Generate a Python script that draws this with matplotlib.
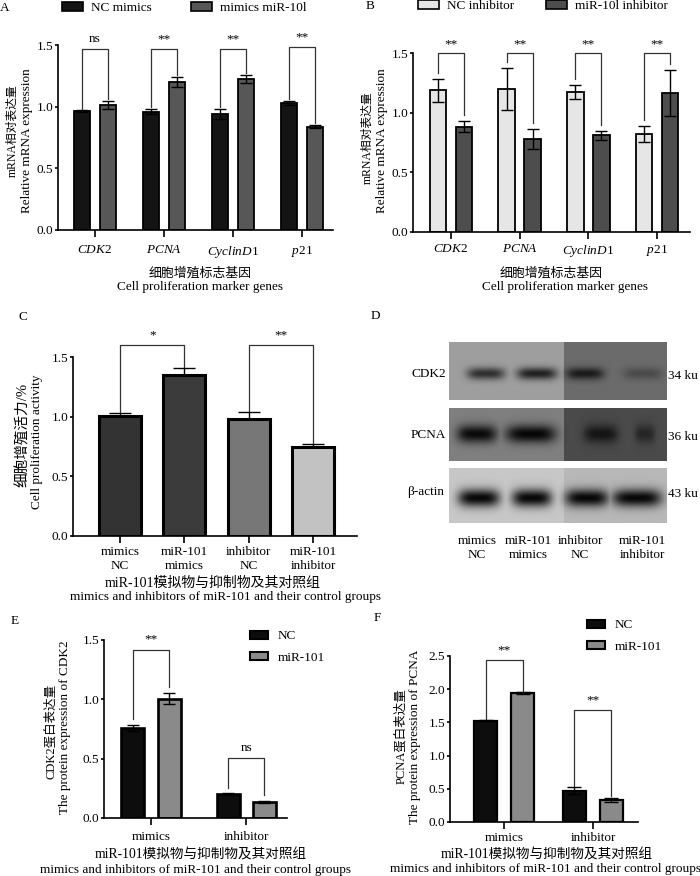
import numpy as np
import matplotlib
matplotlib.use('Agg')
import matplotlib.pyplot as plt
from matplotlib.patches import Patch
from matplotlib.ticker import FormatStrFormatter

plt.rcParams['font.family'] = ['Liberation Serif', 'Noto Sans CJK SC']
plt.rcParams['mathtext.fontset'] = 'custom'
plt.rcParams['mathtext.it'] = 'Liberation Serif:italic'
plt.rcParams['mathtext.rm'] = 'Liberation Serif'
plt.rcParams['font.size'] = 9.5

# ---------------- data ----------------
genes = [r'$\it{CDK}$2', r'$\it{PCNA}$', r'$\it{CyclinD}$1', r'$\it{p}$21']

a_nc = [0.965, 0.96, 0.94, 1.03]
a_nc_err = [0.005, 0.02, 0.04, 0.015]
a_mir = [1.013, 1.203, 1.224, 0.838]
a_mir_err = [0.035, 0.04, 0.03, 0.012]
a_sig = ['ns', '**', '**', '**']
a_top = [1.465, 1.465, 1.465, 1.48]

b_nc = [1.187, 1.198, 1.173, 0.821]
b_nc_err = [0.095, 0.175, 0.055, 0.065]
b_mir = [0.883, 0.777, 0.81, 1.165]
b_mir_err = [0.047, 0.085, 0.035, 0.19]
b_sig = ['**', '**', '**', '**']
b_top = [1.5, 1.5, 1.5, 1.5]

c_groups = ['mimics\nNC', 'miR-101\nmimics', 'inhibitor\nNC', 'miR-101\ninhibitor']
c_vals = [1.003, 1.35, 0.98, 0.75]
c_err = [0.027, 0.06, 0.056, 0.017]
c_sig = ['*', '**']
c_top = [1.6, 1.6]

e_groups = ['mimics', 'inhibitor']
e_nc = [0.757, 0.2]
e_nc_err = [0.028, 0.007]
e_mir = [1.006, 0.132]
e_mir_err = [0.045, 0.008]
e_sig = ['**', 'ns']
e_top = [1.416, 0.505]

f_nc = [1.525, 0.47]
f_nc_err = [0.01, 0.05]
f_mir = [1.945, 0.335]
f_mir_err = [0.015, 0.03]
f_sig = ['**', '**']
f_top = [2.435, 1.685]

# western blot band strengths (0..1) per lane
blot_names = ['CDK2', 'PCNA', 'β-actin']
blot_sizes = ['34 ku', '36 ku', '43 ku']
cdk2_band = [0.7, 0.8, 0.75, 0.3]
pcna_band = [0.92, 0.95, 0.72, 0.5]
actin_band = [0.96, 0.96, 0.96, 0.96]
lanes = ['mimics\nNC', 'miR-101\nmimics', 'inhibitor\nNC', 'miR-101\ninhibitor']

W, H = 700, 876
fig = plt.figure(figsize=(7, 8.76), dpi=100)


def box(x0, y0, x1, y1):
    return [x0 / W, 1 - y1 / H, (x1 - x0) / W, (y1 - y0) / H]


def ftext(x, y, s, **kw):
    kw.setdefault('ha', 'center')
    kw.setdefault('va', 'center')
    fig.text(x / W, 1 - y / H, s, **kw)


def style(ax, ylim, yticks, xpad, xlen=5):
    for s in ['top', 'right']:
        ax.spines[s].set_visible(False)
    for s in ['left', 'bottom']:
        ax.spines[s].set_linewidth(1.2)
    ax.set_ylim(ylim)
    ax.set_yticks(yticks)
    ax.yaxis.set_major_formatter(FormatStrFormatter('%.1f'))
    ax.tick_params(axis='y', direction='out', length=2.5, width=1.2, pad=1, labelsize=9.5)
    ax.tick_params(axis='x', direction='out', length=xlen, width=1.2, pad=xpad, labelsize=9.5)


def bracket(ax, x1, x2, y1, y2, top, label, dy=2, size=9.5):
    ax.plot([x1, x1, x2, x2], [y1, top, top, y2], color='#333333', lw=0.9, clip_on=False)
    ax.annotate(label, xy=((x1 + x2) / 2, top), xytext=(0, dy), textcoords='offset points',
                ha='center', va='bottom', fontsize=size, annotation_clip=False)


def grouped(ax, nc, nce, mir, mire, c1, c2, w, off, lw, cap, tops, sigs, gap, dy=2):
    x = np.arange(len(nc))
    ekw = dict(elinewidth=1.0, capthick=1.0, ecolor='black')
    ax.bar(x - off, nc, w, yerr=nce, color=c1, edgecolor='black', linewidth=lw,
           capsize=cap, error_kw=ekw, zorder=2)
    ax.bar(x + off, mir, w, yerr=mire, color=c2, edgecolor='black', linewidth=lw,
           capsize=cap, error_kw=ekw, zorder=2)
    for i in range(len(nc)):
        bracket(ax, i - off, i + off, nc[i] + nce[i] + gap, mir[i] + mire[i] + gap,
                tops[i], sigs[i], dy=dy)
    return x


# ---------------- A ----------------
axA = fig.add_axes(box(58, 45, 333, 230))
xa = grouped(axA, a_nc, a_nc_err, a_mir, a_mir_err, '#141414', '#575757', 0.232, 0.188,
             1.3, 4, a_top, a_sig, 0.015, dy=3)
axA.set_xlim(-0.536, 3.45)
axA.set_xticks(xa)
axA.set_xticklabels(genes)
style(axA, (0, 1.5), [0, 0.5, 1.0, 1.5], 5)
axA.legend([Patch(facecolor='#141414', edgecolor='black', lw=1.2),
            Patch(facecolor='#575757', edgecolor='black', lw=1.2)],
           ['NC mimics', 'mimics miR-10l'], loc='center left',
           bbox_to_anchor=(62 / W, 1 - 8 / H), bbox_transform=fig.transFigure,
           ncol=2, frameon=False, handlelength=1.6, handleheight=0.6, handletextpad=0.6,
           columnspacing=3.0, borderaxespad=0, borderpad=0, fontsize=9.5)
ftext(5, 8, 'A', fontsize=9.5)
ftext(13, 131, 'mRNA相对表达量', rotation=90, fontsize=8.5)
ftext(27, 141, 'Relative mRNA expression', rotation=90)
ftext(200, 273, '细胞增殖标志基因', fontsize=9.3)
ftext(200, 287, 'Cell proliferation marker genes')

# ---------------- B ----------------
axB = fig.add_axes(box(413, 53, 690, 232))
xb = grouped(axB, b_nc, b_nc_err, b_mir, b_mir_err, '#e6e6e6', '#4d4d4d', 0.24, 0.19,
             1.3, 4.5, b_top, b_sig, 0.05)
axB.set_xlim(-0.553, 3.48)
axB.set_xticks(xb)
axB.set_xticklabels(genes)
style(axB, (0, 1.5), [0, 0.5, 1.0, 1.5], 3)
axB.legend([Patch(facecolor='#e6e6e6', edgecolor='black', lw=1.2),
            Patch(facecolor='#4d4d4d', edgecolor='black', lw=1.2)],
           ['NC inhibitor', 'miR-10l inhibitor'], loc='center left',
           bbox_to_anchor=(418 / W, 1 - 6 / H), bbox_transform=fig.transFigure,
           ncol=2, frameon=False, handlelength=1.6, handleheight=0.6, handletextpad=0.6,
           columnspacing=2.4, borderaxespad=0, borderpad=0, fontsize=9.5)
ftext(370, 6, 'B', fontsize=9.5)
ftext(368, 138, 'mRNA相对表达量', rotation=90, fontsize=8.5)
ftext(382, 141, 'Relative mRNA expression', rotation=90)
ftext(551, 273, '细胞增殖标志基因', fontsize=9.3)
ftext(565, 287, 'Cell proliferation marker genes')

# ---------------- C ----------------
axC = fig.add_axes(box(73, 357, 357, 536))
xc = np.arange(len(c_vals))
axC.bar(xc, c_vals, 0.65, color=['#333333', '#3b3b3b', '#777777', '#c2c2c2'],
        edgecolor='black', linewidth=2.2, zorder=2)
axC.errorbar(xc, c_vals, yerr=[np.zeros(4), c_err], fmt='none', ecolor='black',
             elinewidth=1.0, capsize=8, capthick=1.0, zorder=1)
for k, (i, j) in enumerate([(0, 1), (2, 3)]):
    bracket(axC, i, j, c_vals[i] + c_err[i] + 0.01, c_vals[j] + c_err[j] + 0.01,
            c_top[k], c_sig[k], dy=3)
axC.set_xlim(-0.73, 3.68)
axC.set_xticks(xc)
axC.set_xticklabels(c_groups, linespacing=1.15)
style(axC, (0, 1.5), [0, 0.5, 1.0, 1.5], 2.5)
ftext(23, 317, 'C', fontsize=9.5)
ftext(23, 435, '细胞增殖活力/%', rotation=90, fontsize=10.5)
ftext(37, 442, 'Cell proliferation activity', rotation=90)
ftext(213, 583, 'miR-101模拟物与抑制物及其对照组', fontsize=10)
ftext(225, 597, 'mimics and inhibitors of miR-101 and their control groups')

# ---------------- D (western blot) ----------------
axD = fig.add_axes(box(440, 335, 680, 530))
axD.set_xlim(440, 680)
axD.set_ylim(530, 335)
axD.axis('off')
x0, x1, xs = 449, 667, 564
panels = [
    (343, 400, 0.62, 0.42, cdk2_band, [486, 537, 585, 643], [19, 20, 19, 20], 374, 6),
    (408, 461, 0.50, 0.29, pcna_band, [477, 531, 601, 645], [20, 25, 17, 10], 434, 9),
    (468, 523, 0.78, 0.72, actin_band, [479, 532, 587, 637], [21, 20, 22, 25], 498, 9),
]
for (y0, y1, bgl, bgr, amps, cx, hw, cy, hh) in panels:
    xx = np.arange(x0, x1) + 0.5
    yy = np.arange(y0, y1) + 0.5
    X, Y = np.meshgrid(xx, yy)
    img = np.where(X < xs, bgl, bgr)
    shade = np.zeros_like(img)
    for a, c, w in zip(amps, cx, hw):
        shade = np.maximum(shade, a * np.exp(-np.abs((X - c) / w) ** 4)
                           * np.exp(-((Y - cy) / hh) ** 2))
    img = img * (1 - shade)
    axD.imshow(img, cmap='gray', vmin=0, vmax=1, extent=(x0, x1, y1, y0),
               aspect='auto', interpolation='bilinear')
ftext(375, 316, 'D', fontsize=9.5)
for name, size, yc in zip(blot_names, blot_sizes, [374, 435, 492]):
    ftext(411 if name != 'β-actin' else 407, yc, name, ha='left')
    ftext(668, yc + 2, size, ha='left')
for lab, xc_ in zip(lanes, [477, 528, 580, 642]):
    ftext(xc_, 548, lab, linespacing=1.15)

# ---------------- E ----------------
axE = fig.add_axes(box(104, 640, 287, 818))
xe = grouped(axE, e_nc, e_nc_err, e_mir, e_mir_err, '#0d0d0d', '#8a8a8a', 0.242, 0.19,
             1.9, 4, e_top, e_sig, 0.05, dy=3)
axE.set_xlim(-0.495, 1.43)
axE.set_xticks(xe)
axE.set_xticklabels(e_groups)
style(axE, (0, 1.5), [0, 0.5, 1.0, 1.5], 4)
axE.legend([Patch(facecolor='#0d0d0d', edgecolor='black', lw=1.5),
            Patch(facecolor='#8a8a8a', edgecolor='black', lw=1.5)],
           ['NC', 'miR-101'], loc='center left',
           bbox_to_anchor=(250 / W, 1 - 647 / H), bbox_transform=fig.transFigure,
           frameon=False, handlelength=1.4, handleheight=0.55, handletextpad=0.7,
           labelspacing=0.7, borderaxespad=0, borderpad=0, fontsize=9.5)
ftext(15, 621, 'E', fontsize=9.5)
ftext(51, 731, 'CDK2蛋白表达量', rotation=90, fontsize=9)
ftext(65, 727, 'The protein expression of CDK2', rotation=90)
ftext(201, 855, 'miR-101模拟物与抑制物及其对照组', fontsize=9.8)
ftext(195, 870, 'mimics and inhibitors of miR-101 and their control groups')

# ---------------- F ----------------
axF = fig.add_axes(box(450, 656, 638, 822))
xf = grouped(axF, f_nc, f_nc_err, f_mir, f_mir_err, '#0d0d0d', '#8a8a8a', 0.25, 0.208,
             1.6, 5, f_top, f_sig, 0.02, dy=3)
axF.set_xlim(-0.607, 1.506)
axF.set_xticks(xf)
axF.set_xticklabels(e_groups)
style(axF, (0, 2.5), [0, 0.5, 1.0, 1.5, 2.0, 2.5], 2)
axF.legend([Patch(facecolor='#0d0d0d', edgecolor='black', lw=1.5),
            Patch(facecolor='#8a8a8a', edgecolor='black', lw=1.5)],
           ['NC', 'miR-101'], loc='center left',
           bbox_to_anchor=(587 / W, 1 - 636 / H), bbox_transform=fig.transFigure,
           frameon=False, handlelength=1.4, handleheight=0.55, handletextpad=0.7,
           labelspacing=0.7, borderaxespad=0, borderpad=0, fontsize=9.5)
ftext(377, 618, 'F', fontsize=9.5)
ftext(401, 736, 'PCNA蛋白表达量', rotation=90, fontsize=9)
ftext(415, 737, 'The protein expression of PCNA', rotation=90)
ftext(547, 855, 'miR-101模拟物与抑制物及其对照组', fontsize=9.8)
ftext(546, 869, 'mimics and inhibitors of miR-101 and their control groups')

fig.savefig('out.png', dpi=100)
